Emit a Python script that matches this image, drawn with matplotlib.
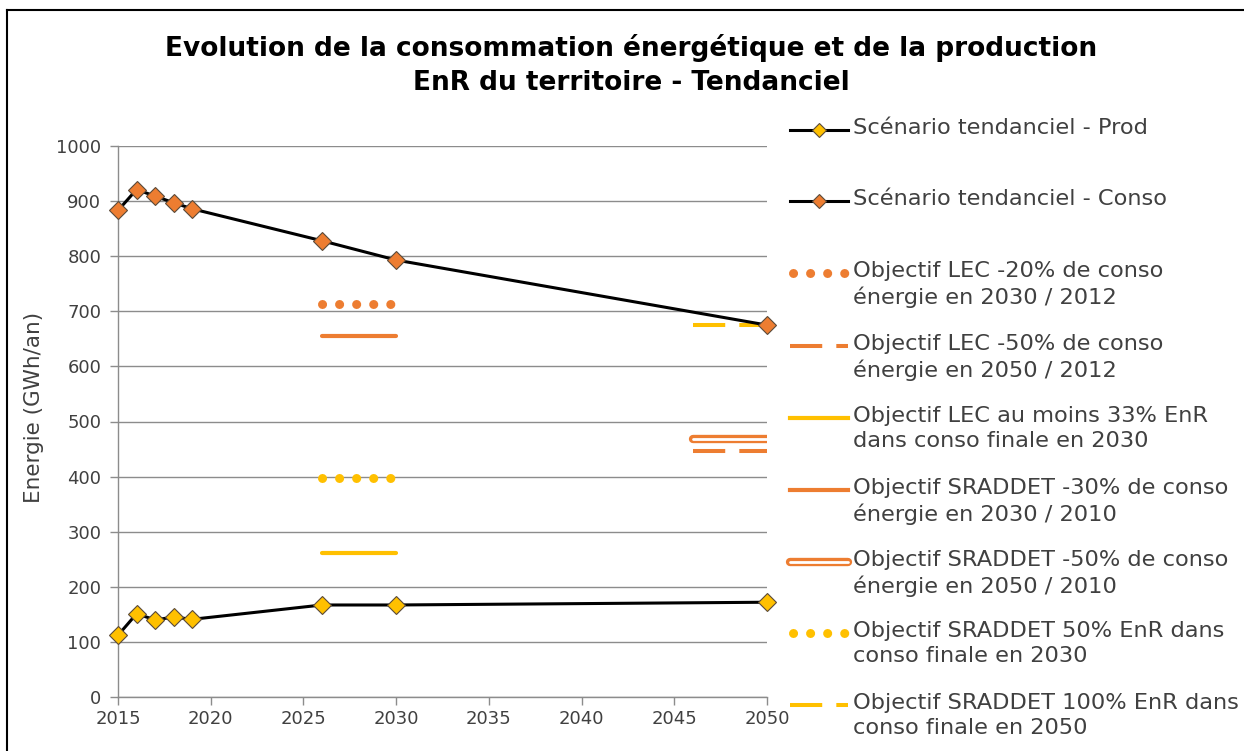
import matplotlib
matplotlib.use("Agg")
import matplotlib.pyplot as plt
from matplotlib.lines import Line2D

# ---------------- data ----------------
years = [2015, 2016, 2017, 2018, 2019, 2026, 2030, 2050]
prod = [112, 151, 140, 145, 141, 167, 167, 172]
conso = [883, 921, 909, 897, 886, 828, 793, 675]

obj_2030_years = [2026, 2030]
obj_2050_years = [2046, 2050]
lec_20_2030 = 714        # Objectif LEC -20% conso 2030/2012
lec_50_2050 = 446        # Objectif LEC -50% conso 2050/2012
lec_33_enr_2030 = 262    # Objectif LEC 33% EnR 2030
sr_30_2030 = 655         # Objectif SRADDET -30% conso 2030/2010
sr_50_2050 = 468         # Objectif SRADDET -50% conso 2050/2010
sr_50_enr_2030 = 397     # Objectif SRADDET 50% EnR 2030
sr_100_enr_2050 = 675    # Objectif SRADDET 100% EnR 2050

labels = [
    "Scénario tendanciel - Prod",
    "Scénario tendanciel - Conso",
    "Objectif LEC -20% de conso\nénergie en 2030 / 2012",
    "Objectif LEC -50% de conso\nénergie en 2050 / 2012",
    "Objectif LEC au moins 33% EnR\ndans conso finale en 2030",
    "Objectif SRADDET -30% de conso\nénergie en 2030 / 2010",
    "Objectif SRADDET -50% de conso\nénergie en 2050 / 2010",
    "Objectif SRADDET 50% EnR dans\nconso finale en 2030",
    "Objectif SRADDET 100% EnR dans\nconso finale en 2050",
]
title = "Evolution de la consommation énergétique et de la production\nEnR du territoire - Tendanciel"

ORANGE = "#ED7D31"
YELLOW = "#FFC000"
GRID = "#8C8C8C"
TXT = "#404040"

plt.rcParams['font.family'] = ['DejaVu Sans']

W, H = 1244, 751
fig = plt.figure(figsize=(W / 100, H / 100), dpi=100)
ax = fig.add_axes([118 / W, 1 - 697 / H, (767 - 118) / W, (697 - 146) / H])

DOT = dict(lw=6.5, linestyle=(0, (0.01, 1.88)), dash_capstyle='round')
DASH = dict(lw=2.9, linestyle=(0, (8, 3.5)), dash_capstyle='butt')
SOLID = dict(lw=3, solid_capstyle='round')

# objective lines
ax.plot(obj_2030_years, [lec_20_2030] * 2, color=ORANGE, zorder=2, **DOT)
ax.plot(obj_2050_years, [lec_50_2050] * 2, color=ORANGE, zorder=2, **DASH)
ax.plot(obj_2030_years, [lec_33_enr_2030] * 2, color=YELLOW, zorder=2, **SOLID)
ax.plot(obj_2030_years, [sr_30_2030] * 2, color=ORANGE, zorder=2, **SOLID)
ax.plot(obj_2050_years, [sr_50_2050] * 2, color=ORANGE, lw=6, solid_capstyle='round', zorder=2)
ax.plot(obj_2050_years, [sr_50_2050] * 2, color="white", lw=2, solid_capstyle='round', zorder=2.1)
ax.plot(obj_2030_years, [sr_50_enr_2030] * 2, color=YELLOW, zorder=2, **DOT)
ax.plot(obj_2050_years, [sr_100_enr_2050] * 2, color=YELLOW, zorder=2, **DASH)

MK = dict(marker='D', markersize=9.5, markeredgecolor='#5a4a3a', markeredgewidth=0.8)
ax.plot(years, prod, color='black', lw=2.2, markerfacecolor=YELLOW, zorder=3, clip_on=False, **MK)
ax.plot(years, conso, color='black', lw=2.2, markerfacecolor=ORANGE, zorder=3, clip_on=False, **MK)

ax.set_xlim(2015, 2050)
ax.set_ylim(0, 1000)
ax.set_xticks(range(2015, 2051, 5))
ax.set_yticks(range(0, 1001, 100))
ax.yaxis.grid(True, color=GRID, lw=1)
ax.set_axisbelow(True)
for s in ['top', 'right']:
    ax.spines[s].set_visible(False)
for s in ['left', 'bottom']:
    ax.spines[s].set_color(GRID)
    ax.spines[s].set_linewidth(1)
ax.tick_params(axis='both', colors=GRID, labelcolor=TXT, labelsize=13, length=6, width=1, direction='out')
ax.tick_params(axis='y', pad=6)
ax.tick_params(axis='x', pad=3)
ax.set_ylabel("Energie (GWh/an)", fontsize=15.5, color=TXT)
ax.yaxis.set_label_coords((44 - 118) / 649, (697 - 407) / 551)

fig.text(631 / W, 1 - 65 / H, title, ha='center', va='center', fontsize=19,
         fontweight='bold', linespacing=1.4, color='black')

# ---------------- manual legend ----------------
def fx(x):
    return x / W

def fy(y):
    return 1 - y / H

ys = [130, 201, 273, 346, 418, 490, 562, 633, 705]
hx0, hx1 = 790, 848
styles = [
    [dict(color='black', lw=2.2, marker='D', markersize=7, markerfacecolor=YELLOW,
          markeredgecolor='#5a4a3a', markeredgewidth=0.8, markevery=[1])],
    [dict(color='black', lw=2.2, marker='D', markersize=7, markerfacecolor=ORANGE,
          markeredgecolor='#5a4a3a', markeredgewidth=0.8, markevery=[1])],
    [dict(color=ORANGE, **DOT)],
    [dict(color=ORANGE, **DASH)],
    [dict(color=YELLOW, lw=3)],
    [dict(color=ORANGE, lw=3)],
    [dict(color=ORANGE, lw=6, solid_capstyle='round'), dict(color='white', lw=2, solid_capstyle='round')],
    [dict(color=YELLOW, **DOT)],
    [dict(color=YELLOW, **DASH)],
]
for y, lab, st in zip(ys, labels, styles):
    for s in st:
        if 'markevery' in s:
            xs = [fx(hx0), fx((hx0 + hx1) / 2), fx(hx1)]
            yy = [fy(y)] * 3
        else:
            if s.get('dash_capstyle') == 'round':
                x0, x1 = hx0 + 3, hx1
            else:
                x0, x1 = hx0, hx1
            xs = [fx(x0), fx(x1)]
            yy = [fy(y)] * 2
        fig.add_artist(Line2D(xs, yy, transform=fig.transFigure, **s))
    fig.text(fx(853), fy(y - 12), lab, ha='left', va='top', fontsize=16.2, color=TXT,
             linespacing=1.32, transform=fig.transFigure)

# outer border (top and left)
fig.add_artist(Line2D([fx(7), fx(1244)], [fy(10), fy(10)], color='black', lw=1.5, transform=fig.transFigure))
fig.add_artist(Line2D([fx(7), fx(7)], [fy(10), fy(751)], color='black', lw=1.5, transform=fig.transFigure))

fig.savefig("out.png", dpi=100)
